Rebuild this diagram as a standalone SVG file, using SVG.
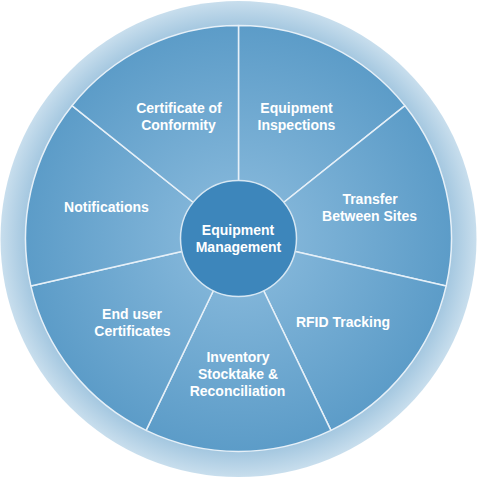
<svg xmlns="http://www.w3.org/2000/svg" width="478" height="479" viewBox="0 0 478 479">
<defs>
<radialGradient id="ringGrad" gradientUnits="userSpaceOnUse" cx="238.5" cy="239" r="238">
<stop offset="0.88" stop-color="#9fc4de"/>
<stop offset="1" stop-color="#c8deed"/>
</radialGradient>
<radialGradient id="segGrad" gradientUnits="userSpaceOnUse" cx="238.5" cy="238.5" r="213">
<stop offset="0.27" stop-color="#80b4d8"/>
<stop offset="1" stop-color="#5c9cc8"/>
</radialGradient>
</defs>
<style>
.seg{fill:url(#segGrad);stroke:#e6f0f8;stroke-width:1.5;stroke-linejoin:round}
.lbl{font-family:"Liberation Sans",Arial,sans-serif;font-weight:bold;font-size:14px;fill:#ffffff;text-anchor:middle}
.hub{fill:#3d86bb;stroke:#d6e7f3;stroke-width:1.5}
</style>
<g id="ring">
<circle cx="238.5" cy="239" r="238" fill="url(#ringGrad)"/>
</g>
<g id="connectors"></g>
<g id="seg-inspections">
<path class="seg" d="M238.5,238.5 L238.5,25.5 A213,213 0 0 1 405.03,105.7 Z"/>
<text class="lbl" x="296.5" y="113">Equipment</text>
<text class="lbl" x="296.5" y="130">Inspections</text>
</g>
<g id="seg-transfer">
<path class="seg" d="M238.5,238.5 L405.03,105.7 A213,213 0 0 1 446.16,285.9 Z"/>
<text class="lbl" x="370" y="204">Transfer</text>
<text class="lbl" x="369.5" y="221">Between Sites</text>
</g>
<g id="seg-rfid">
<path class="seg" d="M238.5,238.5 L446.16,285.9 A213,213 0 0 1 330.92,430.41 Z"/>
<text class="lbl" x="343" y="327">RFID Tracking</text>
</g>
<g id="seg-inventory">
<path class="seg" d="M238.5,238.5 L330.92,430.41 A213,213 0 0 1 146.08,430.41 Z"/>
<text class="lbl" x="238" y="362">Inventory</text>
<text class="lbl" x="238" y="379">Stocktake &amp;</text>
<text class="lbl" x="237.5" y="396">Reconciliation</text>
</g>
<g id="seg-enduser">
<path class="seg" d="M238.5,238.5 L146.08,430.41 A213,213 0 0 1 30.84,285.9 Z"/>
<text class="lbl" x="132" y="319">End user</text>
<text class="lbl" x="132.5" y="336">Certificates</text>
</g>
<g id="seg-notifications">
<path class="seg" d="M238.5,238.5 L30.84,285.9 A213,213 0 0 1 71.97,105.7 Z"/>
<text class="lbl" x="106.5" y="212">Notifications</text>
</g>
<g id="seg-conformity">
<path class="seg" d="M238.5,238.5 L71.97,105.7 A213,213 0 0 1 238.5,25.5 Z"/>
<text class="lbl" x="179" y="113">Certificate of</text>
<text class="lbl" x="178.5" y="130">Conformity</text>
</g>
<g id="hub">
<circle class="hub" cx="238.5" cy="238.5" r="58"/>
<text class="lbl" x="238" y="235">Equipment</text>
<text class="lbl" x="238.5" y="252">Management</text>
</g>
</svg>
